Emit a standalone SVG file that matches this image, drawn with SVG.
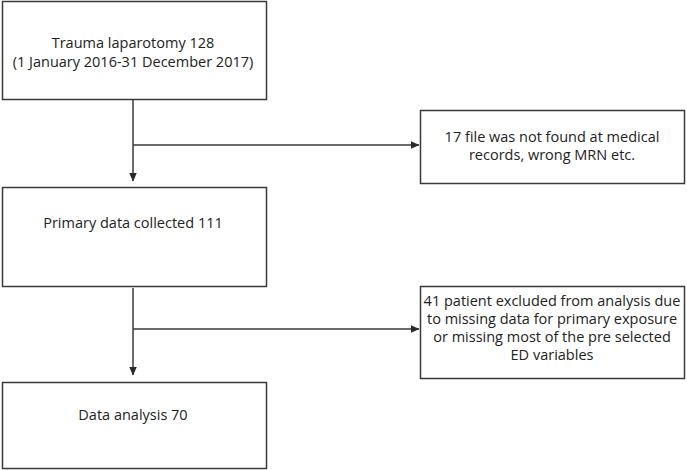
<svg xmlns="http://www.w3.org/2000/svg" width="687" height="470" viewBox="0 0 687 470">
<style>
.box{fill:#fff;stroke:#3a3a3a;stroke-width:1.5}
.t{font-family:"Open Sans","Liberation Sans",sans-serif;font-size:14.5px;fill:#222;text-anchor:middle}
.c{fill:none;stroke:#3a3a3a;stroke-width:1.5}
</style>
<defs>
<marker id="ah" markerWidth="9" markerHeight="8" refX="8.5" refY="4" orient="auto" markerUnits="userSpaceOnUse">
<path d="M0,0 L9,4 L0,8 Z" fill="#2a2a2a"/>
</marker>
</defs>
<rect width="687" height="470" fill="#fff"/>
<g id="connectors">
<path class="c" d="M133,100 V181" marker-end="url(#ah)"/>
<path class="c" d="M133,145 H419" marker-end="url(#ah)"/>
<path class="c" d="M133,288 V375" marker-end="url(#ah)"/>
<path class="c" d="M133,329 H419" marker-end="url(#ah)"/>
</g>
<g id="n1">
<rect class="box" x="2.5" y="1.5" width="264" height="98"/>
<text class="t" x="133" y="48">Trauma laparotomy 128</text>
<text class="t" x="133" y="67">(1 January 2016-31 December 2017)</text>
</g>
<g id="n2">
<rect class="box" x="420.5" y="110.5" width="264" height="73"/>
<text class="t" x="552" y="142">17 file was not found at medical</text>
<text class="t" x="552" y="160">records, wrong MRN etc.</text>
</g>
<g id="n3">
<rect class="box" x="2.5" y="187.5" width="264" height="99"/>
<text class="t" x="133" y="228">Primary data collected 111</text>
</g>
<g id="n4">
<rect class="box" x="420.5" y="286.5" width="264" height="92"/>
<text class="t" x="552" y="306">41 patient excluded from analysis due</text>
<text class="t" x="552" y="324">to missing data for primary exposure</text>
<text class="t" x="552" y="342">or missing most of the pre selected</text>
<text class="t" x="552" y="360">ED variables</text>
</g>
<g id="n5">
<rect class="box" x="2.5" y="382.5" width="264" height="86"/>
<text class="t" x="133" y="420">Data analysis 70</text>
</g>
</svg>
